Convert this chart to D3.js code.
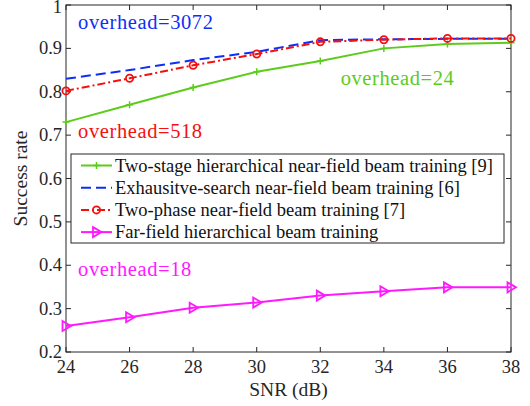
<!DOCTYPE html>
<html>
<head>
<meta charset="utf-8">
<script src="https://cdn.jsdelivr.net/npm/d3@7"></script>
</head>
<body style="margin:0">
<script>
// data
var snr = [24, 26, 28, 30, 32, 34, 36, 38];
var twoStage   = [0.730, 0.770, 0.810, 0.846, 0.871, 0.900, 0.910, 0.913];
var exhaustive = [0.830, 0.850, 0.873, 0.892, 0.919, 0.921, 0.922, 0.922];
var twoPhase   = [0.802, 0.831, 0.861, 0.887, 0.915, 0.920, 0.923, 0.923];
var farField   = [0.260, 0.280, 0.302, 0.314, 0.330, 0.340, 0.349, 0.349];
var yTicks = [0.2, 0.3, 0.4, 0.5, 0.6, 0.7, 0.8, 0.9, 1];
var seriesNames = [
  "Two-stage hierarchical near-field beam training [9]",
  "Exhausitve-search near-field beam training [6]",
  "Two-phase near-field beam training [7]",
  "Far-field hierarchical beam training"
];

var W = 530, H = 406;
var margin = {left: 66, right: 19, top: 5, bottom: 54};

var svg = d3.select("body").append("svg").attr("width", W).attr("height", H);

function txt(sel, size) {
  return sel.append("text").style("font-family", "Liberation Serif").attr("font-size", size);
}

var x = d3.scaleLinear().domain([24, 38]).range([margin.left, W - margin.right]);
var y = d3.scaleLinear().domain([0.2, 1]).range([H - margin.bottom, margin.top]);

var axisColor = "#262626";

// axes, MATLAB style (inward ticks, box)
var tl = 5;
var g = svg.append("g");
g.append("rect")
  .attr("x", x(24)).attr("y", y(1))
  .attr("width", x(38) - x(24)).attr("height", y(0.2) - y(1))
  .attr("fill", "none").attr("stroke", axisColor).attr("stroke-width", 1);

snr.forEach(function(v) {
  g.append("line").attr("x1", x(v)).attr("x2", x(v)).attr("y1", y(0.2)).attr("y2", y(0.2) - tl).attr("stroke", axisColor);
  g.append("line").attr("x1", x(v)).attr("x2", x(v)).attr("y1", y(1)).attr("y2", y(1) + tl).attr("stroke", axisColor);
  txt(g, 18.5).attr("x", x(v)).attr("y", y(0.2) + 21)
    .attr("text-anchor", "middle").attr("fill", axisColor).text(v);
});
yTicks.forEach(function(v) {
  g.append("line").attr("x1", x(24)).attr("x2", x(24) + tl).attr("y1", y(v)).attr("y2", y(v)).attr("stroke", axisColor);
  g.append("line").attr("x1", x(38)).attr("x2", x(38) - tl).attr("y1", y(v)).attr("y2", y(v)).attr("stroke", axisColor);
  txt(g, 18.5).attr("x", x(24) - 4).attr("y", Math.max(y(v) + 6, 13))
    .attr("text-anchor", "end").attr("fill", axisColor).text(v);
});

txt(svg, 19.5).attr("x", (x(24) + x(38)) / 2).attr("y", 396)
  .attr("text-anchor", "middle").attr("fill", axisColor).text("SNR (dB)");
txt(svg, 19.5).attr("transform", "translate(27," + (y(0.6)) + ") rotate(-90)")
  .attr("text-anchor", "middle").attr("fill", axisColor).text("Success rate");

var line = d3.line().x(function(d, i) { return x(snr[i]); }).y(function(d) { return y(d); });

var series = [
  {name: seriesNames[0], vals: twoStage,   color: "#5ccc1c", dash: null,      marker: "plus"},
  {name: seriesNames[1], vals: exhaustive, color: "#0f2ef5", dash: "10,5",    marker: null},
  {name: seriesNames[2], vals: twoPhase,   color: "#f51010", dash: "8,3,2,3", marker: "circle"},
  {name: seriesNames[3], vals: farField,   color: "#ff19ff", dash: null,      marker: "tri"}
];

function drawMarker(sel, type, cx, cy, color) {
  if (type == "plus") {
    sel.append("path").attr("d", "M" + (cx - 3.5) + "," + cy + "H" + (cx + 3.5) + "M" + cx + "," + (cy - 3.5) + "V" + (cy + 3.5))
      .attr("stroke", color).attr("stroke-width", 1.5);
  } else if (type == "circle") {
    sel.append("circle").attr("cx", cx).attr("cy", cy).attr("r", 3.6)
      .attr("fill", "none").attr("stroke", color).attr("stroke-width", 1.8);
  } else if (type == "tri") {
    sel.append("path").attr("d", "M" + (cx - 3.5) + "," + (cy - 5) + "L" + (cx + 5) + "," + cy + "L" + (cx - 3.5) + "," + (cy + 5) + "Z")
      .attr("fill", "none").attr("stroke", color).attr("stroke-width", 1.8);
  }
}

var plot = svg.append("g");
series.forEach(function(s) {
  plot.append("path").datum(s.vals).attr("d", line)
    .attr("fill", "none").attr("stroke", s.color).attr("stroke-width", 2)
    .attr("stroke-dasharray", s.dash);
  if (s.marker) {
    s.vals.forEach(function(v, i) { drawMarker(plot, s.marker, x(snr[i]), y(v), s.color); });
  }
});

// legend
var lg = svg.append("g");
var lx = 71, ly = 154, lw = 433, lh = 89;
lg.append("rect").attr("x", lx).attr("y", ly).attr("width", lw).attr("height", lh)
  .attr("fill", "#fff").attr("stroke", axisColor).attr("stroke-width", 1);
series.forEach(function(s, i) {
  var ry = ly + 11.5 + i * 22.2;
  lg.append("line").attr("x1", lx + 10).attr("x2", lx + 41).attr("y1", ry).attr("y2", ry)
    .attr("stroke", s.color).attr("stroke-width", 2).attr("stroke-dasharray", s.dash);
  if (s.marker) drawMarker(lg, s.marker, lx + 25.5, ry, s.color);
  txt(lg, 18.5).attr("x", lx + 44).attr("y", ry + 6)
    .attr("fill", "#111").text(s.name);
});

// overhead annotations
var notes = [
  {t: "overhead=3072", c: "#0f2ef5", px: 24.38, py: 0.944},
  {t: "overhead=518",  c: "#f51010", px: 24.38, py: 0.693},
  {t: "overhead=24",   c: "#5ccc1c", px: 32.64, py: 0.8155},
  {t: "overhead=18",   c: "#ff19ff", px: 24.38, py: 0.375}
];
notes.forEach(function(n) {
  txt(svg, 20.5).attr("x", x(n.px)).attr("y", y(n.py))
    .attr("letter-spacing", 0.6).attr("fill", n.c).text(n.t);
});
</script>
</body>
</html>
